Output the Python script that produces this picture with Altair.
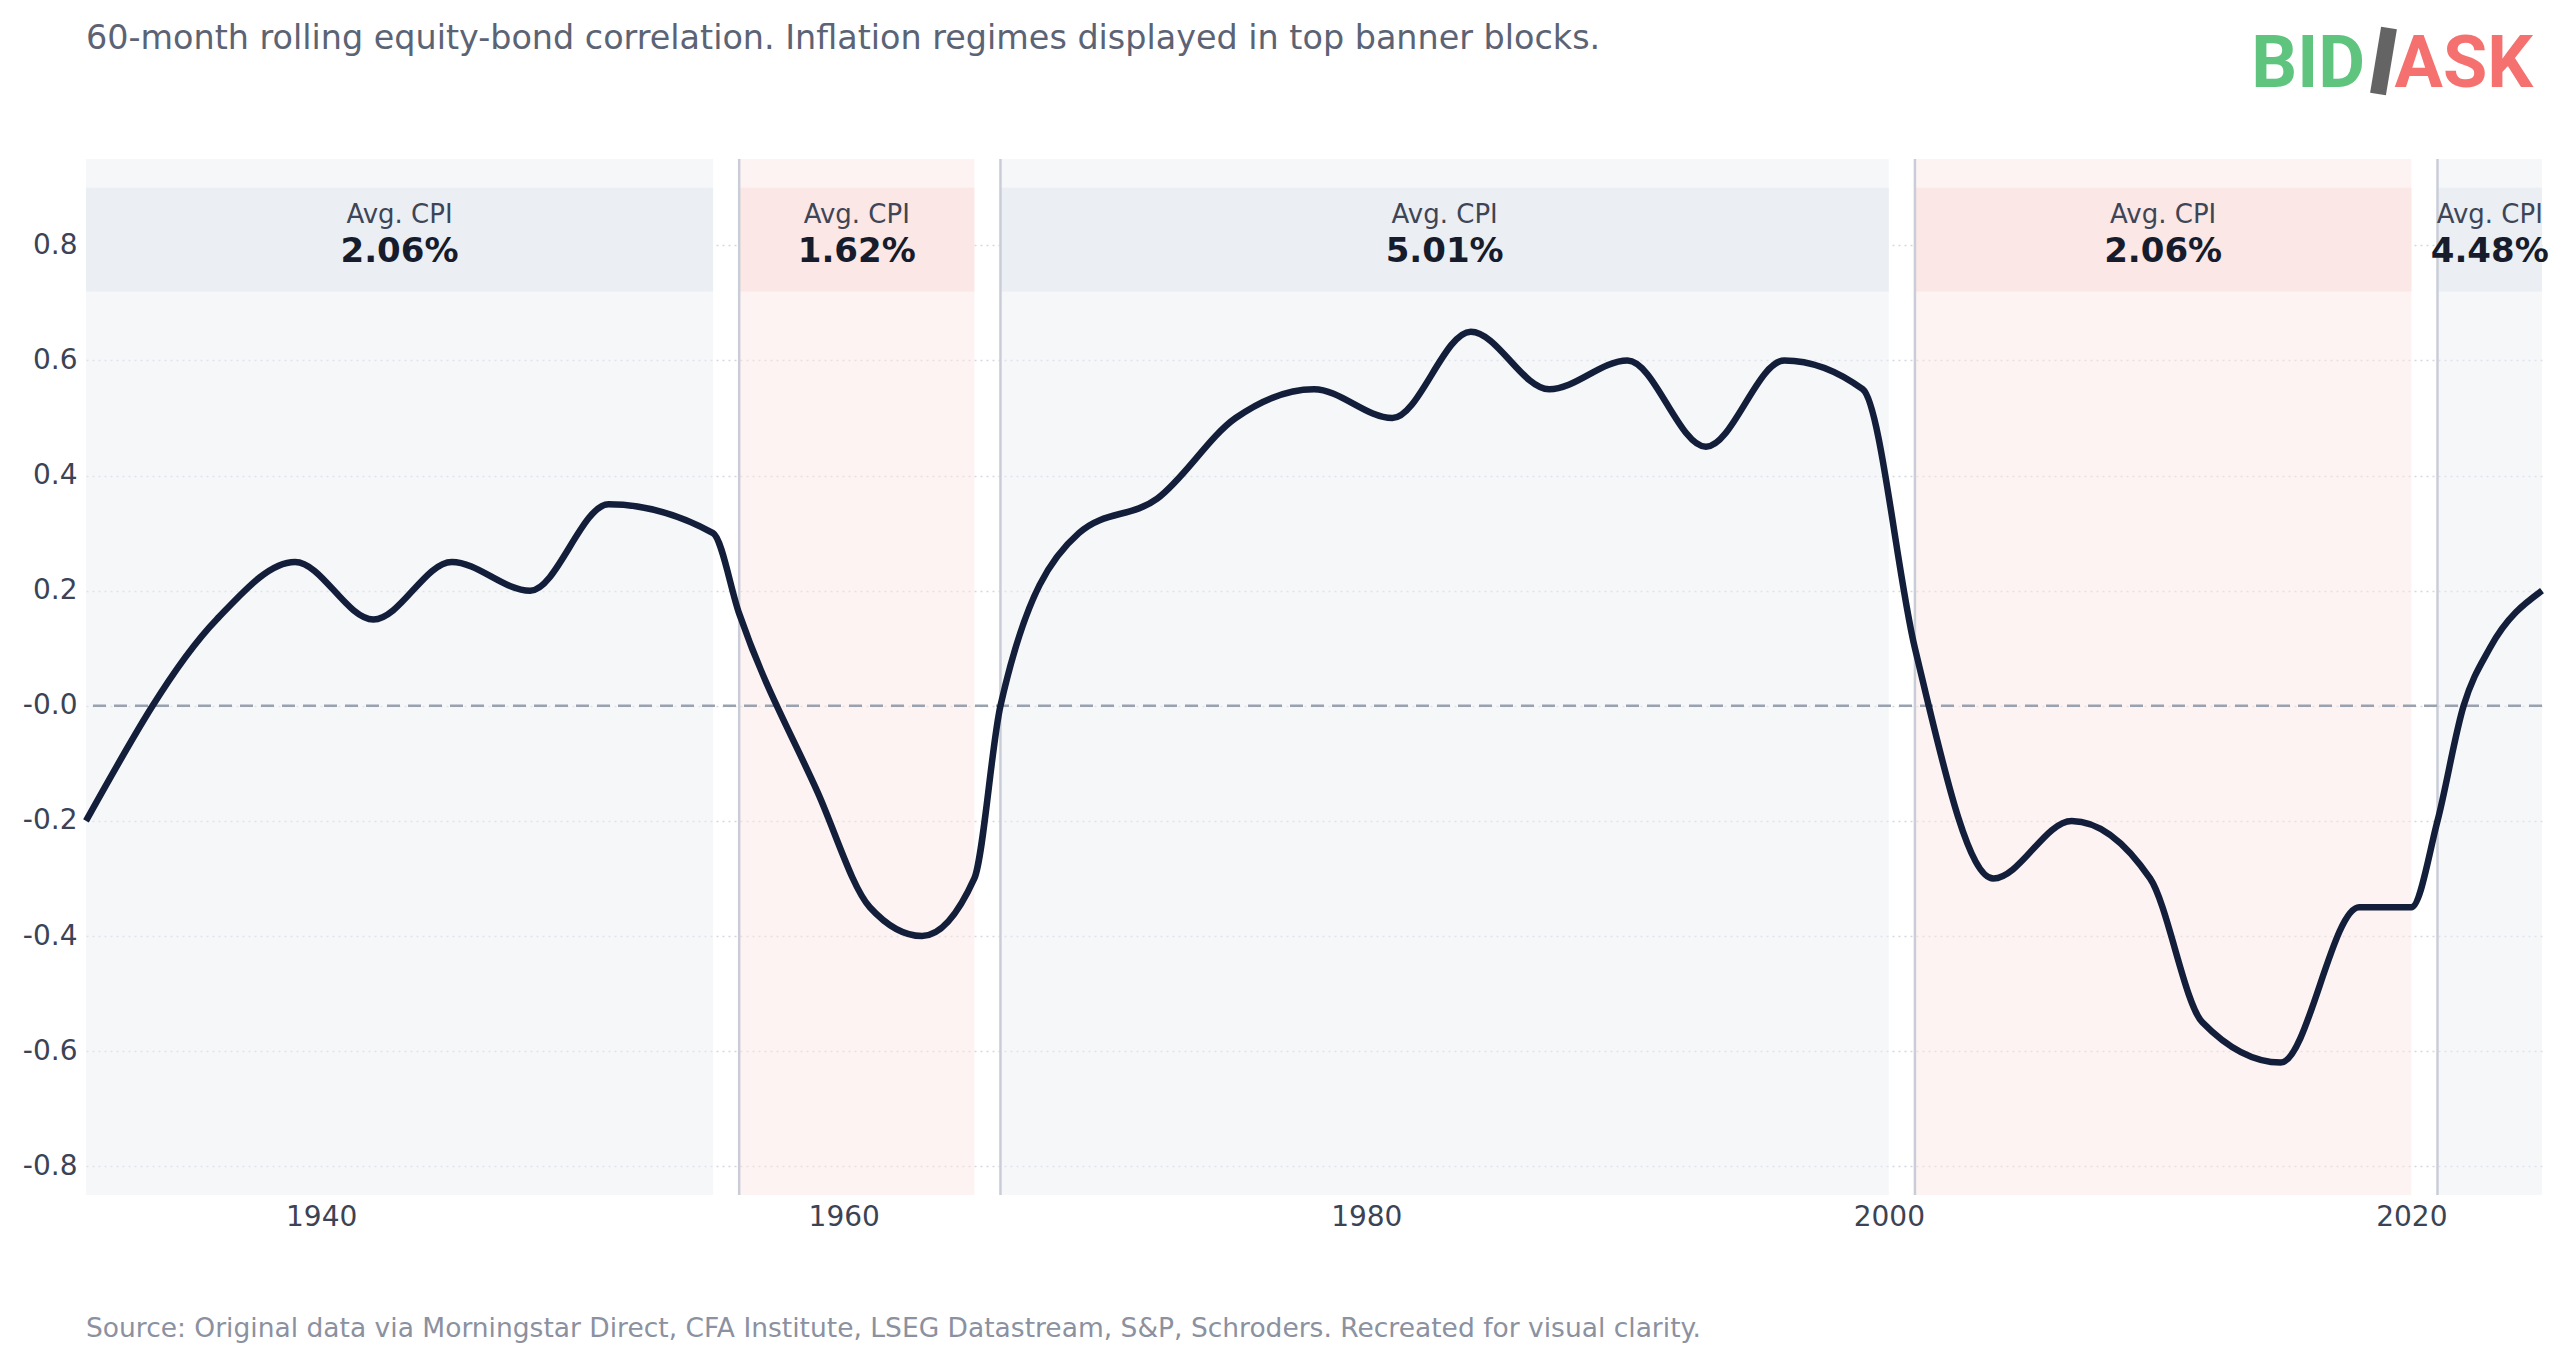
"""60-month rolling equity-bond correlation with inflation-regime banners."""

import altair as alt
import pandas as pd

# 相関の推移（図から読み取ったアンカー点。線は monotone 補間で描く）
YEARS = [1931, 1936, 1939, 1942, 1945, 1948, 1951, 1955, 1956, 1959, 1961, 1963,
         1965, 1966, 1969, 1972, 1975, 1978, 1981, 1984, 1987, 1990, 1993, 1996,
         1999, 2001, 2004, 2007, 2010, 2012, 2015, 2018, 2020, 2021, 2022, 2023,
         2025]
CORR = [-0.20, 0.15, 0.25, 0.15, 0.25, 0.20, 0.35, 0.30, 0.16, -0.15, -0.35, -0.40,
        -0.30, 0.00, 0.30, 0.36, 0.50, 0.55, 0.50, 0.65, 0.55, 0.60, 0.45, 0.60,
        0.55, 0.10, -0.30, -0.20, -0.30, -0.55, -0.62, -0.35, -0.35, -0.20, 0.00, 0.10,
        0.20]

# インフレ局面
REGIME_START = [1931, 1956, 1966, 2001, 2021]
REGIME_END = [1955, 1965, 2000, 2020, 2025]
REGIME_CPI = ["2.06%", "1.62%", "5.01%", "2.06%", "4.48%"]
REGIME_TONE = ["neutral", "rose", "neutral", "rose", "neutral"]

X_TICKS = [1940, 1960, 1980, 2000, 2020]
Y_TICKS = [-0.8, -0.6, -0.4, -0.2, 0.0, 0.2, 0.4, 0.6, 0.8]

TITLE = "60-month rolling equity-bond correlation. Inflation regimes displayed in top banner blocks."
SOURCE = ("Source: Original data via Morningstar Direct, CFA Institute, LSEG Datastream, "
          "S&P, Schroders. Recreated for visual clarity.")
BANNER_LABEL = "Avg. CPI"

W, H = 2456, 1036
FONT = "DejaVu Sans"
LOGO_FONT = "Roboto"

line_df = pd.DataFrame({"year": YEARS, "corr": CORR})
reg_df = pd.DataFrame({
    "start": REGIME_START,
    "end": REGIME_END,
    "cpi": REGIME_CPI,
    "tone": REGIME_TONE,
})
one = pd.DataFrame({"title": [TITLE], "source": [SOURCE]})

x_scale = alt.Scale(domain=[1931, 2025], nice=False, zero=False)
y_scale = alt.Scale(domain=[-0.85, 0.95], nice=False, zero=False)
x_axis = alt.Axis(values=X_TICKS, format="d", title=None, grid=False, labelPadding=8)
y_axis = alt.Axis(
    values=Y_TICKS,
    title=None,
    grid=True,
    gridDash=[2, 4],
    gridColor="#d3d7de",
    gridWidth=1.5,
    labelPadding=9,
    labelExpr="(datum.value <= 0 ? '-' : '') + format(abs(datum.value), '.1f')",
)


def X(field, **kw):
    return alt.X(field, scale=x_scale, axis=x_axis, **kw)


def Yd(value):
    return alt.Y(datum=value, scale=y_scale, axis=y_axis)


reg = alt.Chart(reg_df)

bg = reg.mark_rect(opacity=0.5).encode(
    x=X("start:Q"),
    x2="end:Q",
    y=Yd(0.95),
    y2=alt.Y2(datum=-0.85),
    color=alt.Color("tone:N", scale=alt.Scale(domain=["neutral", "rose"],
                                              range=["#ebeff3", "#fbe7e5"]), legend=None),
)

banner = reg.mark_rect().encode(
    x=X("start:Q"),
    x2="end:Q",
    y=Yd(0.90),
    y2=alt.Y2(datum=0.72),
    color=alt.Color("tone:N", scale=alt.Scale(domain=["neutral", "rose"],
                                              range=["#e9edf1", "#f7e2e1"]), legend=None),
)

separators = reg.transform_filter(f"datum.start > {REGIME_START[0]}").mark_rule(
    color="#c9cdd7", strokeWidth=2.5
).encode(x=X("start:Q"))

zero = alt.Chart(one).mark_rule(color="#9aa1af", strokeWidth=2.5, strokeDash=[13, 8]).encode(
    y=Yd(0)
)

line = alt.Chart(line_df).mark_line(
    color="#131e3a", strokeWidth=6.5, interpolate="monotone"
).encode(
    x=X("year:Q"),
    y=alt.Y("corr:Q", scale=y_scale, axis=y_axis),
)

label = reg.transform_calculate(mid="(datum.start + datum.end) / 2").mark_text(
    font=FONT, fontSize=26, color="#3d4556", baseline="middle"
).encode(x=X("mid:Q"), y=Yd(0.853), text=alt.value(BANNER_LABEL))

value = reg.transform_calculate(mid="(datum.start + datum.end) / 2").mark_text(
    font=FONT, fontSize=34, fontWeight="bold", color="#161c2b", baseline="middle"
).encode(x=X("mid:Q"), y=Yd(0.789), text="cpi:N")

title = alt.Chart(one).mark_text(
    font=FONT, fontSize=33.4, color="#5b6374", align="left", baseline="middle"
).encode(x=alt.value(0), y=alt.value(-120), text="title:N")

source = alt.Chart(one).mark_text(
    font=FONT, fontSize=26.5, color="#8b91a0", align="left", baseline="middle"
).encode(x=alt.value(0), y=alt.value(1170), text="source:N")

# ロゴ BID/ASK
logo_bid = alt.Chart(one).mark_text(
    font=LOGO_FONT, fontSize=72, fontWeight="bold", color="#5fc47e",
    align="right", baseline="alphabetic",
).encode(x=alt.value(2279), y=alt.value(-72), text=alt.value("BID"))
logo_ask = alt.Chart(one).mark_text(
    font=LOGO_FONT, fontSize=72, fontWeight="bold", color="#f47170",
    align="right", baseline="alphabetic",
).encode(x=alt.value(2447), y=alt.value(-72), text=alt.value("ASK"))
logo_slash = alt.Chart(one).mark_rule(color="#646464", strokeWidth=16).encode(
    x=alt.value(2303), y=alt.value(-131), x2=alt.value(2292), y2=alt.value(-65)
)

chart = (
    alt.layer(bg, banner, separators, zero, line, label, value,
              title, source, logo_bid, logo_slash, logo_ask)
    .properties(
        width=W,
        height=H,
        autosize=alt.AutoSizeParams(type="none"),
        padding={"left": 78, "top": 151, "right": 20, "bottom": 150},
        background="white",
    )
    .configure_view(strokeWidth=0)
    .configure_axis(
        labelFont=FONT,
        labelFontSize=28,
        labelColor="#3b4355",
        domain=False,
        ticks=False,
    )
)

chart.save("out.html", embed_options={"renderer": "svg", "actions": False})
